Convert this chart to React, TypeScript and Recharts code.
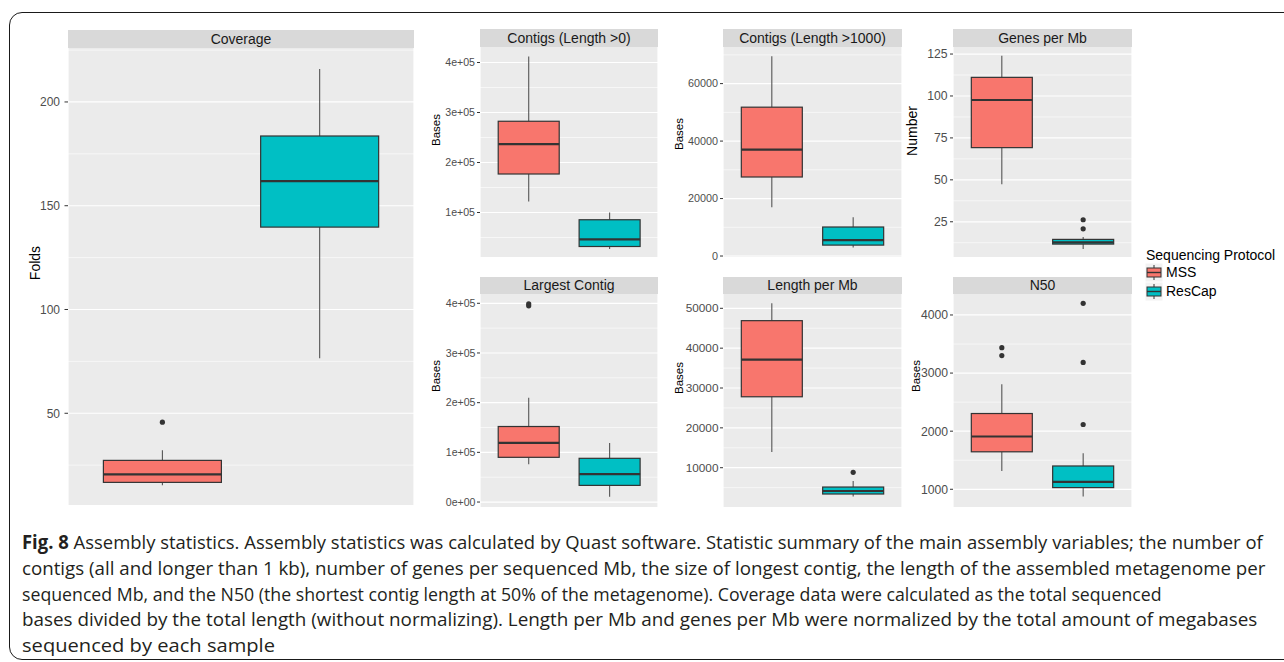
import React, { useLayoutEffect, useRef, useState } from "react";
import { ComposedChart, Bar, XAxis, YAxis, CartesianGrid } from "recharts";

const protocols = ["MSS", "ResCap"];
const protocolColors = ["#F8766D", "#00BFC4"];

// [lower whisker, Q1, median, Q3, upper whisker] per protocol
const coverageStats = [
  [15.3, 16.7, 20.6, 27.3, 32.2],
  [76.5, 139.7, 161.9, 183.6, 215.9],
];
const coverageOutliers = [[45.7], []];

const contigsAllStats = [
  [122000, 177000, 236700, 282500, 412000],
  [27000, 32000, 46200, 85500, 100000],
];
const contigsAllOutliers = [[], []];

const contigs1000Stats = [
  [17000, 27500, 37000, 51800, 69500],
  [3000, 3800, 5500, 10100, 13500],
];
const contigs1000Outliers = [[], []];

const genesStats = [
  [47.4, 69.2, 97.6, 111.1, 124],
  [8.7, 11.7, 12.7, 14.5, 15.9],
];
const genesOutliers = [[], [26.2, 20.8]];

const largestStats = [
  [76000, 90000, 119000, 152000, 210000],
  [10700, 33500, 56000, 88000, 119000],
];
const largestOutliers = [[395000, 399000], []];

const lengthStats = [
  [13950, 27800, 37100, 46900, 51260],
  [2800, 3400, 4150, 5150, 6660],
];
const lengthOutliers = [[], [8830]];

const n50Stats = [
  [1315, 1645, 1908, 2304, 2808],
  [874, 1029, 1126, 1401, 1619],
];
const n50Outliers = [[3438, 3301], [4200, 3183, 2115]];

// axis ticks
const coverageTicks = [50, 100, 150, 200];
const coverageMinor = [25, 75, 125, 175, 225];
const contigsAllTicks = [100000, 200000, 300000, 400000];
const contigsAllMinor = [50000, 150000, 250000, 350000];
const contigs1000Ticks = [0, 20000, 40000, 60000];
const contigs1000Minor = [10000, 30000, 50000, 70000];
const genesTicks = [25, 50, 75, 100, 125];
const genesMinor = [12.5, 37.5, 62.5, 87.5, 112.5];
const largestTicks = [0, 100000, 200000, 300000, 400000];
const largestMinor = [50000, 150000, 250000, 350000];
const lengthTicks = [10000, 20000, 30000, 40000, 50000];
const lengthMinor = [5000, 15000, 25000, 35000, 45000];
const n50Ticks = [1000, 2000, 3000, 4000];
const n50Minor = [1500, 2500, 3500];

const sci = (v: number) => {
  if (v === 0) return "0e+00";
  const e = Math.floor(Math.log10(Math.abs(v)));
  const m = +(v / Math.pow(10, e)).toFixed(2);
  return `${m}e${e < 0 ? "-" : "+"}${String(Math.abs(e)).padStart(2, "0")}`;
};
const plain = (v: number) => String(v);

const FONT = '"Liberation Sans", Arial, Helvetica, sans-serif';
const CAPTION_FONT = '"Open Sans", "Noto Sans", sans-serif';

type PanelDef = {
  title: string;
  stats: number[][];
  outliers: number[][];
  domain: [number, number];
  ticks: number[];
  minor: number[];
  fmt: (v: number) => string;
  left: number;
  top: number;
  width: number;
  height: number;
  stripTop: number;
  tickFont: number;
  tickSize: number;
  tickMargin: number;
  yTitle: string;
  yTitleX: number;
  yTitleY: number;
  yTitleSize: number;
};

const panels: PanelDef[] = [
  {
    title: "Coverage", stats: coverageStats, outliers: coverageOutliers,
    domain: [5.8, 226], ticks: coverageTicks, minor: coverageMinor, fmt: plain,
    left: 68, top: 48, width: 346, height: 457, stripTop: 30,
    tickFont: 12, tickSize: 3.5, tickMargin: 4.5,
    yTitle: "Folds", yTitleX: 35, yTitleY: 263, yTitleSize: 14,
  },
  {
    title: "Contigs (Length >0)", stats: contigsAllStats, outliers: contigsAllOutliers,
    domain: [11000, 431000], ticks: contigsAllTicks, minor: contigsAllMinor, fmt: sci,
    left: 480, top: 47, width: 178, height: 210, stripTop: 29,
    tickFont: 10.6, tickSize: 3, tickMargin: 2,
    yTitle: "Bases", yTitleX: 436, yTitleY: 130, yTitleSize: 11.5,
  },
  {
    title: "Contigs (Length >1000)", stats: contigs1000Stats, outliers: contigs1000Outliers,
    domain: [-340, 72740], ticks: contigs1000Ticks, minor: contigs1000Minor, fmt: plain,
    left: 723, top: 47, width: 179, height: 210, stripTop: 29,
    tickFont: 10.8, tickSize: 3, tickMargin: 2,
    yTitle: "Bases", yTitleX: 679, yTitleY: 134, yTitleSize: 11.5,
  },
  {
    title: "Genes per Mb", stats: genesStats, outliers: genesOutliers,
    domain: [4, 129.2], ticks: genesTicks, minor: genesMinor, fmt: plain,
    left: 953, top: 47, width: 179, height: 210, stripTop: 29,
    tickFont: 12.2, tickSize: 3, tickMargin: 2.5,
    yTitle: "Number", yTitleX: 912, yTitleY: 131, yTitleSize: 14,
  },
  {
    title: "Largest Contig", stats: largestStats, outliers: largestOutliers,
    domain: [-10000, 418700], ticks: largestTicks, minor: largestMinor, fmt: sci,
    left: 480, top: 294, width: 178, height: 213, stripTop: 277,
    tickFont: 10.6, tickSize: 3, tickMargin: 1.5,
    yTitle: "Bases", yTitleX: 436, yTitleY: 376, yTitleSize: 11.5,
  },
  {
    title: "Length per Mb", stats: lengthStats, outliers: lengthOutliers,
    domain: [140, 53590], ticks: lengthTicks, minor: lengthMinor, fmt: plain,
    left: 723, top: 294, width: 179, height: 213, stripTop: 277,
    tickFont: 11.8, tickSize: 3, tickMargin: 1.5,
    yTitle: "Bases", yTitleX: 679, yTitleY: 378, yTitleSize: 11.5,
  },
  {
    title: "N50", stats: n50Stats, outliers: n50Outliers,
    domain: [695, 4361], ticks: n50Ticks, minor: n50Minor, fmt: plain,
    left: 953, top: 294, width: 179, height: 213, stripTop: 277,
    tickFont: 12.2, tickSize: 3, tickMargin: 2,
    yTitle: "Bases", yTitleX: 916, yTitleY: 376, yTitleSize: 11.5,
  },
];

const AXIS_W = 60;
const XAXIS_H = 7;

function BoxShape(props: any) {
  const { x, y, width, height, payload } = props;
  if (!payload) return null;
  const [lo, q1, med, q3, hi] = payload.stats as number[];
  const top = Math.min(y, y + height);
  const bottom = Math.max(y, y + height);
  const toY = (v: number) => bottom - ((v - lo) / (hi - lo)) * (bottom - top);
  const cx = x + width / 2;
  return (
    <g>
      <line x1={cx} x2={cx} y1={toY(hi)} y2={toY(q3)} stroke="#555555" strokeWidth={1.1} />
      <line x1={cx} x2={cx} y1={toY(q1)} y2={toY(lo)} stroke="#555555" strokeWidth={1.1} />
      <rect
        x={x}
        y={toY(q3)}
        width={width}
        height={toY(q1) - toY(q3)}
        fill={payload.color}
        stroke="#333333"
        strokeWidth={1.2}
      />
      <line x1={x} x2={x + width} y1={toY(med)} y2={toY(med)} stroke="#333333" strokeWidth={2.2} />
      {(payload.outliers as number[]).map((v, i) => (
        <circle key={i} cx={cx} cy={toY(v)} r={2.6} fill="#333333" />
      ))}
    </g>
  );
}

function BoxPanel({ p }: { p: PanelDef }) {
  const data = protocols.map((name, i) => ({
    name,
    stats: p.stats[i],
    outliers: p.outliers[i],
    color: protocolColors[i],
  }));
  const pad = p.width * 0.0455;
  return (
    <>
      <div
        style={{
          position: "absolute",
          left: p.left,
          top: p.stripTop,
          width: p.width,
          height: p.top - p.stripTop,
          background: "#D9D9D9",
          color: "#1A1A1A",
          fontSize: 14,
          lineHeight: `${p.top - p.stripTop}px`,
          textAlign: "center",
          whiteSpace: "nowrap",
        }}
      >
        {p.title}
      </div>
      <div
        style={{
          position: "absolute",
          left: p.yTitleX - 60,
          top: p.yTitleY - 10,
          width: 120,
          height: 20,
          lineHeight: "20px",
          textAlign: "center",
          fontSize: p.yTitleSize,
          color: "#000",
          transform: "rotate(-90deg)",
          whiteSpace: "nowrap",
        }}
      >
        {p.yTitle}
      </div>
      <div style={{ position: "absolute", left: p.left - AXIS_W, top: p.top }}>
        <ComposedChart
          width={AXIS_W + p.width}
          height={p.height + XAXIS_H}
          data={data}
          margin={{ top: 0, right: 0, bottom: 0, left: 0 }}
          barCategoryGap="12.5%"
        >
          <CartesianGrid
            horizontalValues={p.minor}
            vertical={false}
            stroke="#FFFFFF"
            strokeWidth={0.6}
            fill="#EBEBEB"
            fillOpacity={1}
          />
          <CartesianGrid horizontalValues={p.ticks} stroke="#FFFFFF" strokeWidth={1.2} />
          <XAxis
            dataKey="name"
            height={XAXIS_H}
            tick={false}
            axisLine={false}
            tickLine={{ stroke: "#333333" }}
            tickSize={3.5}
            padding={{ left: pad, right: pad }}
          />
          <YAxis
            width={AXIS_W}
            domain={p.domain}
            allowDataOverflow
            ticks={p.ticks}
            interval={0}
            tickFormatter={p.fmt}
            axisLine={false}
            tickLine={{ stroke: "#333333" }}
            tickSize={p.tickSize}
            tickMargin={p.tickMargin}
            tick={{ fill: "#4D4D4D", fontSize: p.tickFont, fontFamily: FONT }}
          />
          <Bar
            dataKey={(d: any) => [d.stats[0], d.stats[4]]}
            shape={BoxShape}
            isAnimationActive={false}
          />
        </ComposedChart>
      </div>
    </>
  );
}

function LegendKey({ color, top }: { color: string; top: number }) {
  return (
    <svg style={{ position: "absolute", left: 1145, top }} width={18} height={19}>
      <rect x={0} y={0} width={18} height={19} fill="#F2F2F2" stroke="#FFFFFF" />
      <line x1={9} x2={9} y1={2} y2={5} stroke="#333" strokeWidth={1} />
      <line x1={9} x2={9} y1={14} y2={17} stroke="#333" strokeWidth={1} />
      <rect x={2} y={5} width={14} height={9} fill={color} stroke="#333" strokeWidth={1} />
      <line x1={2} x2={16} y1={9.5} y2={9.5} stroke="#333" strokeWidth={1.4} />
    </svg>
  );
}

// caption lines as broken in the figure, with the width each line takes there
const captionLines = [
  { bold: "Fig. 8", text: " Assembly statistics. Assembly statistics was calculated by Quast software. Statistic summary of the main assembly variables; the number of", width: 1241 },
  { bold: "", text: "contigs (all and longer than 1 kb), number of genes per sequenced Mb, the size of longest contig, the length of the assembled metagenome per", width: 1243 },
  { bold: "", text: "sequenced Mb, and the N50 (the shortest contig length at 50% of the metagenome). Coverage data were calculated as the total sequenced", width: 1140 },
  { bold: "", text: "bases divided by the total length (without normalizing). Length per Mb and genes per Mb were normalized by the total amount of megabases", width: 1235 },
  { bold: "", text: "sequenced by each sample", width: 253 },
];

function CaptionLine({ bold, text, width, top }: { bold: string; text: string; width: number; top: number }) {
  const ref = useRef<HTMLDivElement>(null);
  const [sx, setSx] = useState(1);
  useLayoutEffect(() => {
    if (ref.current) {
      const w = ref.current.scrollWidth;
      if (w > 0) setSx(width / w);
    }
  }, [width]);
  return (
    <div
      ref={ref}
      style={{
        position: "absolute",
        left: 22,
        top,
        whiteSpace: "nowrap",
        fontFamily: CAPTION_FONT,
        fontSize: 19,
        lineHeight: "24px",
        color: "#231F20",
        transform: `scaleX(${sx})`,
        transformOrigin: "0 0",
        display: "inline-block",
      }}
    >
      {bold && <b>{bold}</b>}
      {text}
    </div>
  );
}

export default function App() {
  return (
    <div
      style={{
        position: "absolute",
        left: 0,
        top: 0,
        width: 1284,
        height: 662,
        overflow: "hidden",
        background: "#FFFFFF",
        fontFamily: FONT,
      }}
    >
      <div
        style={{
          position: "absolute",
          left: 9,
          top: 12,
          width: 1320,
          height: 648,
          border: "1.5px solid #1a1a1a",
          borderRadius: 13,
          boxSizing: "border-box",
        }}
      />
      {panels.map((p) => (
        <BoxPanel key={p.title} p={p} />
      ))}
      <div
        style={{
          position: "absolute",
          left: 1146,
          top: 246,
          fontSize: 14,
          color: "#000",
          whiteSpace: "nowrap",
          lineHeight: "18px",
        }}
      >
        Sequencing Protocol
      </div>
      {protocols.map((name, i) => (
        <React.Fragment key={name}>
          <LegendKey color={protocolColors[i]} top={263 + i * 19} />
          <div
            style={{
              position: "absolute",
              left: 1166,
              top: 263 + i * 19,
              fontSize: 14,
              lineHeight: "19px",
              color: "#000",
              whiteSpace: "nowrap",
            }}
          >
            {name}
          </div>
        </React.Fragment>
      ))}
      {captionLines.map((l, i) => (
        <CaptionLine key={i} bold={l.bold} text={l.text} width={l.width} top={530 + i * 25.8} />
      ))}
    </div>
  );
}
